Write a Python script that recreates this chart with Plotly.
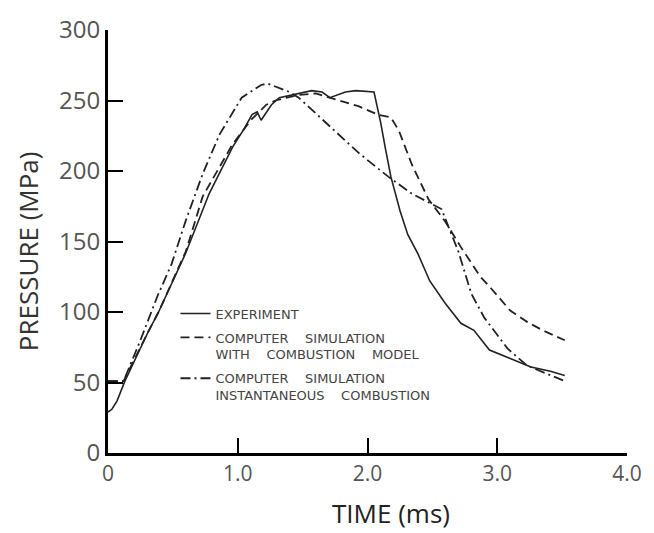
import plotly.graph_objects as go

# Experiment (solid)
exp_t = [0.0, 0.03, 0.07, 0.10, 0.13, 0.31, 0.39, 0.60, 0.78, 0.96, 1.05, 1.11, 1.15, 1.18,
         1.26, 1.32, 1.47, 1.57, 1.65, 1.71, 1.83, 1.91, 2.05, 2.10, 2.14, 2.18, 2.25, 2.31,
         2.39, 2.48, 2.60, 2.72, 2.82, 2.94, 3.10, 3.26, 3.41, 3.52]
exp_p = [29, 31, 37, 44, 51, 86, 100, 142, 184, 217, 230, 240, 242, 236,
         247, 252, 255, 257, 256, 252, 256, 257, 256, 235, 215, 196, 172, 155,
         141, 122, 106, 92, 87, 73, 67, 61, 58, 55]

# Computer simulation with combustion model (dashed)
comb_t = [0.0, 0.12, 0.31, 0.39, 0.60, 0.73, 0.96, 1.10, 1.22, 1.29, 1.47, 1.60, 1.78, 1.93,
          2.08, 2.18, 2.24, 2.34, 2.47, 2.60, 2.72, 2.87, 2.95, 3.10, 3.23, 3.35, 3.52]
comb_p = [51, 51, 86, 100, 143, 182, 219, 236, 247, 250, 254, 255, 250, 246,
          240, 238, 229, 205, 180, 164, 146, 125, 117, 101, 93, 87, 80]

# Computer simulation, instantaneous combustion (dash-dot)
inst_t = [0.0, 0.12, 0.25, 0.38, 0.49, 0.60, 0.73, 0.86, 1.03, 1.18, 1.23, 1.40, 1.47, 1.61,
          1.80, 1.93, 2.01, 2.16, 2.34, 2.44, 2.57, 2.70, 2.80, 2.90, 3.08, 3.23, 3.52]
inst_p = [51, 51, 80, 111, 134, 165, 198, 226, 252, 261, 262, 256, 252, 240,
          224, 213, 207, 196, 184, 179, 173, 143, 113, 96, 74, 62, 51]

x_ticks = [0, 1, 2, 3, 4]
x_labels = ["0", "1.0", "2.0", "3.0", "4.0"]
y_ticks = [0, 50, 100, 150, 200, 250, 300]

names = ["EXPERIMENT",
         "COMPUTER    SIMULATION<br>WITH    COMBUSTION    MODEL",
         "COMPUTER    SIMULATION<br>INSTANTANEOUS    COMBUSTION"]

ink = "#222222"
fig = go.Figure()
fig.add_trace(go.Scatter(x=exp_t, y=exp_p, mode="lines", name=names[0], legendgroup="a",
                         line=dict(color=ink, width=1.6)))
fig.add_trace(go.Scatter(x=comb_t, y=comb_p, mode="lines", name=names[1], legendgroup="b",
                         line=dict(color=ink, width=1.8, dash="9px,5px")))
fig.add_trace(go.Scatter(x=inst_t, y=inst_p, mode="lines", name=names[2], legendgroup="c",
                         line=dict(color=ink, width=1.8, dash="10px,4px,2px,4px")))

fig.update_layout(
    width=654, height=533,
    margin=dict(l=108, r=24, t=20, b=80),
    paper_bgcolor="white", plot_bgcolor="white",
    font=dict(family="DejaVu Sans", color="#444"),
    showlegend=True,
    legend=dict(x=0.13, y=0.365, xanchor="left", yanchor="top",
                bgcolor="rgba(0,0,0,0)", font=dict(size=13, color="#444"),
                valign="top", itemwidth=30, tracegroupgap=4),
    xaxis=dict(range=[0, 4], tickvals=x_ticks, ticktext=x_labels,
               showgrid=False, zeroline=False, showline=True, linecolor="black",
               linewidth=3, ticks="inside", ticklen=15, tickwidth=2, tickcolor="black",
               tickfont=dict(size=21, color="#555", family="Open Sans")),
    yaxis=dict(range=[0, 300], tickvals=y_ticks,
               showgrid=False, zeroline=False, showline=True, linecolor="black",
               linewidth=3, ticks="inside", ticklen=15, tickwidth=2, tickcolor="black",
               tickfont=dict(size=24, color="#555", family="Open Sans")),
    annotations=[
        dict(text="TIME (ms)", xref="paper", yref="paper", x=0.545, y=-0.143,
             xanchor="center", yanchor="middle", showarrow=False,
             font=dict(size=26, color="#222", family="Open Sans")),
        dict(text="PRESSURE (MPa)", xref="paper", yref="paper", x=-0.155, y=0.476,
             xanchor="center", yanchor="middle", showarrow=False, textangle=-90,
             font=dict(size=26, color="#333", family="Open Sans")),
    ],
)

fig.write_html("out.html")
